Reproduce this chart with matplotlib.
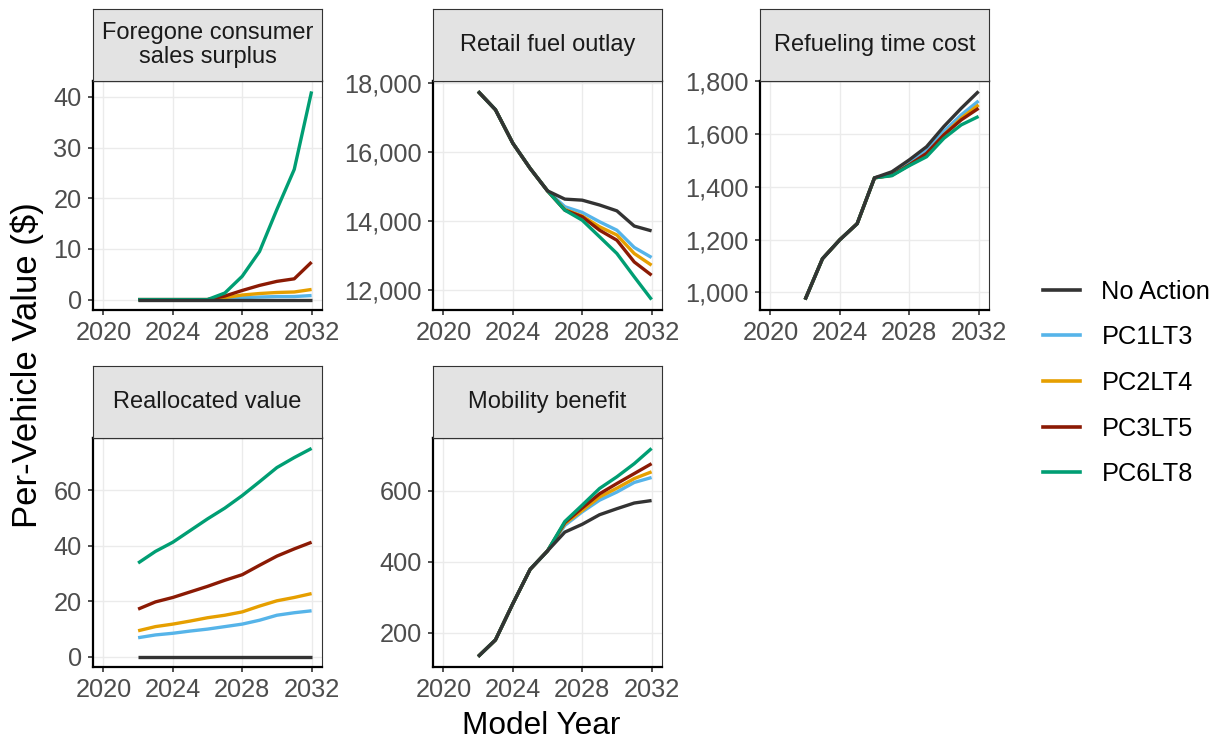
import matplotlib.pyplot as plt
from matplotlib.ticker import FuncFormatter
from matplotlib.lines import Line2D

plt.rcParams['font.family'] = ['Liberation Sans', 'DejaVu Sans']

years = list(range(2022, 2033))
scenarios = ['No Action', 'PC1LT3', 'PC2LT4', 'PC3LT5', 'PC6LT8']
colors = ['#333333', '#56B4E9', '#E69F00', '#8B1A04', '#009E73']

# Foregone consumer sales surplus
foregone_na = [0, 0, 0, 0, 0, 0, 0, 0, 0, 0, 0]
foregone_pc1 = [0, 0, 0, 0, 0, 0.2, 0.4, 0.5, 0.6, 0.6, 0.8]
foregone_pc2 = [0, 0, 0, 0, 0, 0.4, 0.9, 1.2, 1.4, 1.5, 2.0]
foregone_pc3 = [0, 0, 0, 0, 0, 0.7, 1.8, 2.8, 3.6, 4.1, 7.4]
foregone_pc6 = [0, 0, 0, 0, 0, 1.3, 4.6, 9.5, 17.8, 25.7, 41.1]

# Retail fuel outlay
fuel_na = [17760, 17230, 16260, 15530, 14880, 14640, 14610, 14470, 14300, 13860, 13720]
fuel_pc1 = [17760, 17230, 16260, 15530, 14880, 14420, 14255, 13985, 13740, 13240, 12950]
fuel_pc2 = [17760, 17230, 16260, 15530, 14880, 14340, 14150, 13840, 13600, 13065, 12725]
fuel_pc3 = [17760, 17230, 16260, 15530, 14880, 14320, 14130, 13740, 13450, 12820, 12435]
fuel_pc6 = [17760, 17230, 16260, 15530, 14880, 14320, 14030, 13550, 13065, 12390, 11730]

# Refueling time cost
refuel_na = [972, 1127, 1199, 1260, 1434, 1457, 1502, 1552, 1629, 1698, 1762]
refuel_pc1 = [972, 1127, 1199, 1260, 1434, 1448, 1491, 1537, 1610, 1673, 1726]
refuel_pc2 = [972, 1127, 1199, 1260, 1434, 1444, 1483, 1524, 1597, 1660, 1711]
refuel_pc3 = [972, 1127, 1199, 1260, 1434, 1444, 1483, 1527, 1597, 1654, 1698]
refuel_pc6 = [972, 1127, 1199, 1260, 1434, 1442, 1480, 1514, 1584, 1635, 1667]

# Reallocated value
realloc_na = [0, 0, 0, 0, 0, 0, 0, 0, 0, 0, 0]
realloc_pc1 = [6.8, 7.8, 8.4, 9.2, 9.9, 10.8, 11.7, 13.1, 14.9, 15.8, 16.5]
realloc_pc2 = [9.3, 10.8, 11.7, 12.8, 14.0, 14.9, 16.1, 18.2, 20.1, 21.3, 22.7]
realloc_pc3 = [17.1, 19.7, 21.3, 23.3, 25.3, 27.5, 29.5, 32.9, 36.2, 38.8, 41.2]
realloc_pc6 = [33.7, 37.9, 41.2, 45.4, 49.6, 53.5, 58.0, 63.0, 68.1, 71.7, 75.0]

# Mobility benefit
mob_na = [133, 180, 282, 379, 431, 484, 506, 533, 550, 566, 573]
mob_pc1 = [133, 180, 282, 379, 431, 503, 541, 574, 597, 624, 638]
mob_pc2 = [133, 180, 282, 379, 431, 508, 545, 583, 608, 635, 654]
mob_pc3 = [133, 180, 282, 379, 431, 511, 552, 592, 621, 649, 677]
mob_pc6 = [133, 180, 282, 379, 431, 514, 560, 607, 640, 677, 720]

panels = [
    ('Foregone consumer\nsales surplus', [foregone_na, foregone_pc1, foregone_pc2, foregone_pc3, foregone_pc6], [0, 10, 20, 30, 40]),
    ('Retail fuel outlay', [fuel_na, fuel_pc1, fuel_pc2, fuel_pc3, fuel_pc6], [12000, 14000, 16000, 18000]),
    ('Refueling time cost', [refuel_na, refuel_pc1, refuel_pc2, refuel_pc3, refuel_pc6], [1000, 1200, 1400, 1600, 1800]),
    ('Reallocated value', [realloc_na, realloc_pc1, realloc_pc2, realloc_pc3, realloc_pc6], [0, 20, 40, 60]),
    ('Mobility benefit', [mob_na, mob_pc1, mob_pc2, mob_pc3, mob_pc6], [200, 400, 600]),
]

W, H = 1219, 742
fig = plt.figure(figsize=(W / 100, H / 100), dpi=100)

col_x = [93, 433, 760]
row_top = [81, 438]
pw, ph, sh = 229, 229, 72

for i, (title, series, yticks) in enumerate(panels):
    r, c = divmod(i, 3)
    x0 = col_x[c]
    y0 = row_top[r]
    ax = fig.add_axes([x0 / W, 1 - (y0 + ph) / H, pw / W, ph / H])
    # others first, No Action on top
    for k in [1, 2, 3, 4, 0]:
        ax.plot(years, series[k], color=colors[k], lw=2.4, zorder=3 + (k == 0), solid_capstyle='butt')
    allv = [v for s in series for v in s]
    lo, hi = min(allv), max(allv)
    pad = (hi - lo) * 0.05
    ax.set_ylim(lo - pad, hi + pad)
    ax.set_xlim(2019.4, 2032.6)
    ax.set_xticks([2020, 2024, 2028, 2032])
    ax.set_yticks(yticks)
    ax.yaxis.set_major_formatter(FuncFormatter(lambda v, p: f'{int(v):,}'))
    ax.grid(True, color='#EBEBEB', lw=1.0)
    ax.set_axisbelow(True)
    ax.tick_params(labelsize=18.3, labelcolor='#4D4D4D', length=3.6, width=1.2, color='#333333', pad=4.5)
    for s in ['left', 'bottom', 'top']:
        ax.spines[s].set_linewidth(1.6)
        ax.spines[s].set_color('black')
    ax.spines['right'].set_linewidth(0.8)
    ax.spines['right'].set_color('#333333')

    sax = fig.add_axes([x0 / W, 1 - y0 / H, pw / W, sh / H])
    sax.set_facecolor('#E3E3E3')
    sax.set_xticks([])
    sax.set_yticks([])
    for s in sax.spines.values():
        s.set_color('#333333')
        s.set_linewidth(0.8)
    sax.text(0.5, 0.5, title, ha='center', va='center', fontsize=17, color='#1A1A1A',
             linespacing=1.15, transform=sax.transAxes)

fig.text(27 / W, 1 - 365 / H, 'Per-Vehicle Value ($)', rotation=90, ha='center', va='center', fontsize=25)
fig.text(541 / W, 1 - 726 / H, 'Model Year', ha='center', va='center', fontsize=22.8)

handles = [Line2D([0], [0], color=colors[k], lw=2.6) for k in range(5)]
fig.legend(handles, scenarios, loc='center left', bbox_to_anchor=(1043 / W, 1 - 383 / H),
           frameon=False, fontsize=18.3, handlelength=1.45, labelspacing=0.85, handletextpad=0.85,
           borderpad=0, borderaxespad=0)

fig.savefig('out.png', dpi=100, facecolor='white')
